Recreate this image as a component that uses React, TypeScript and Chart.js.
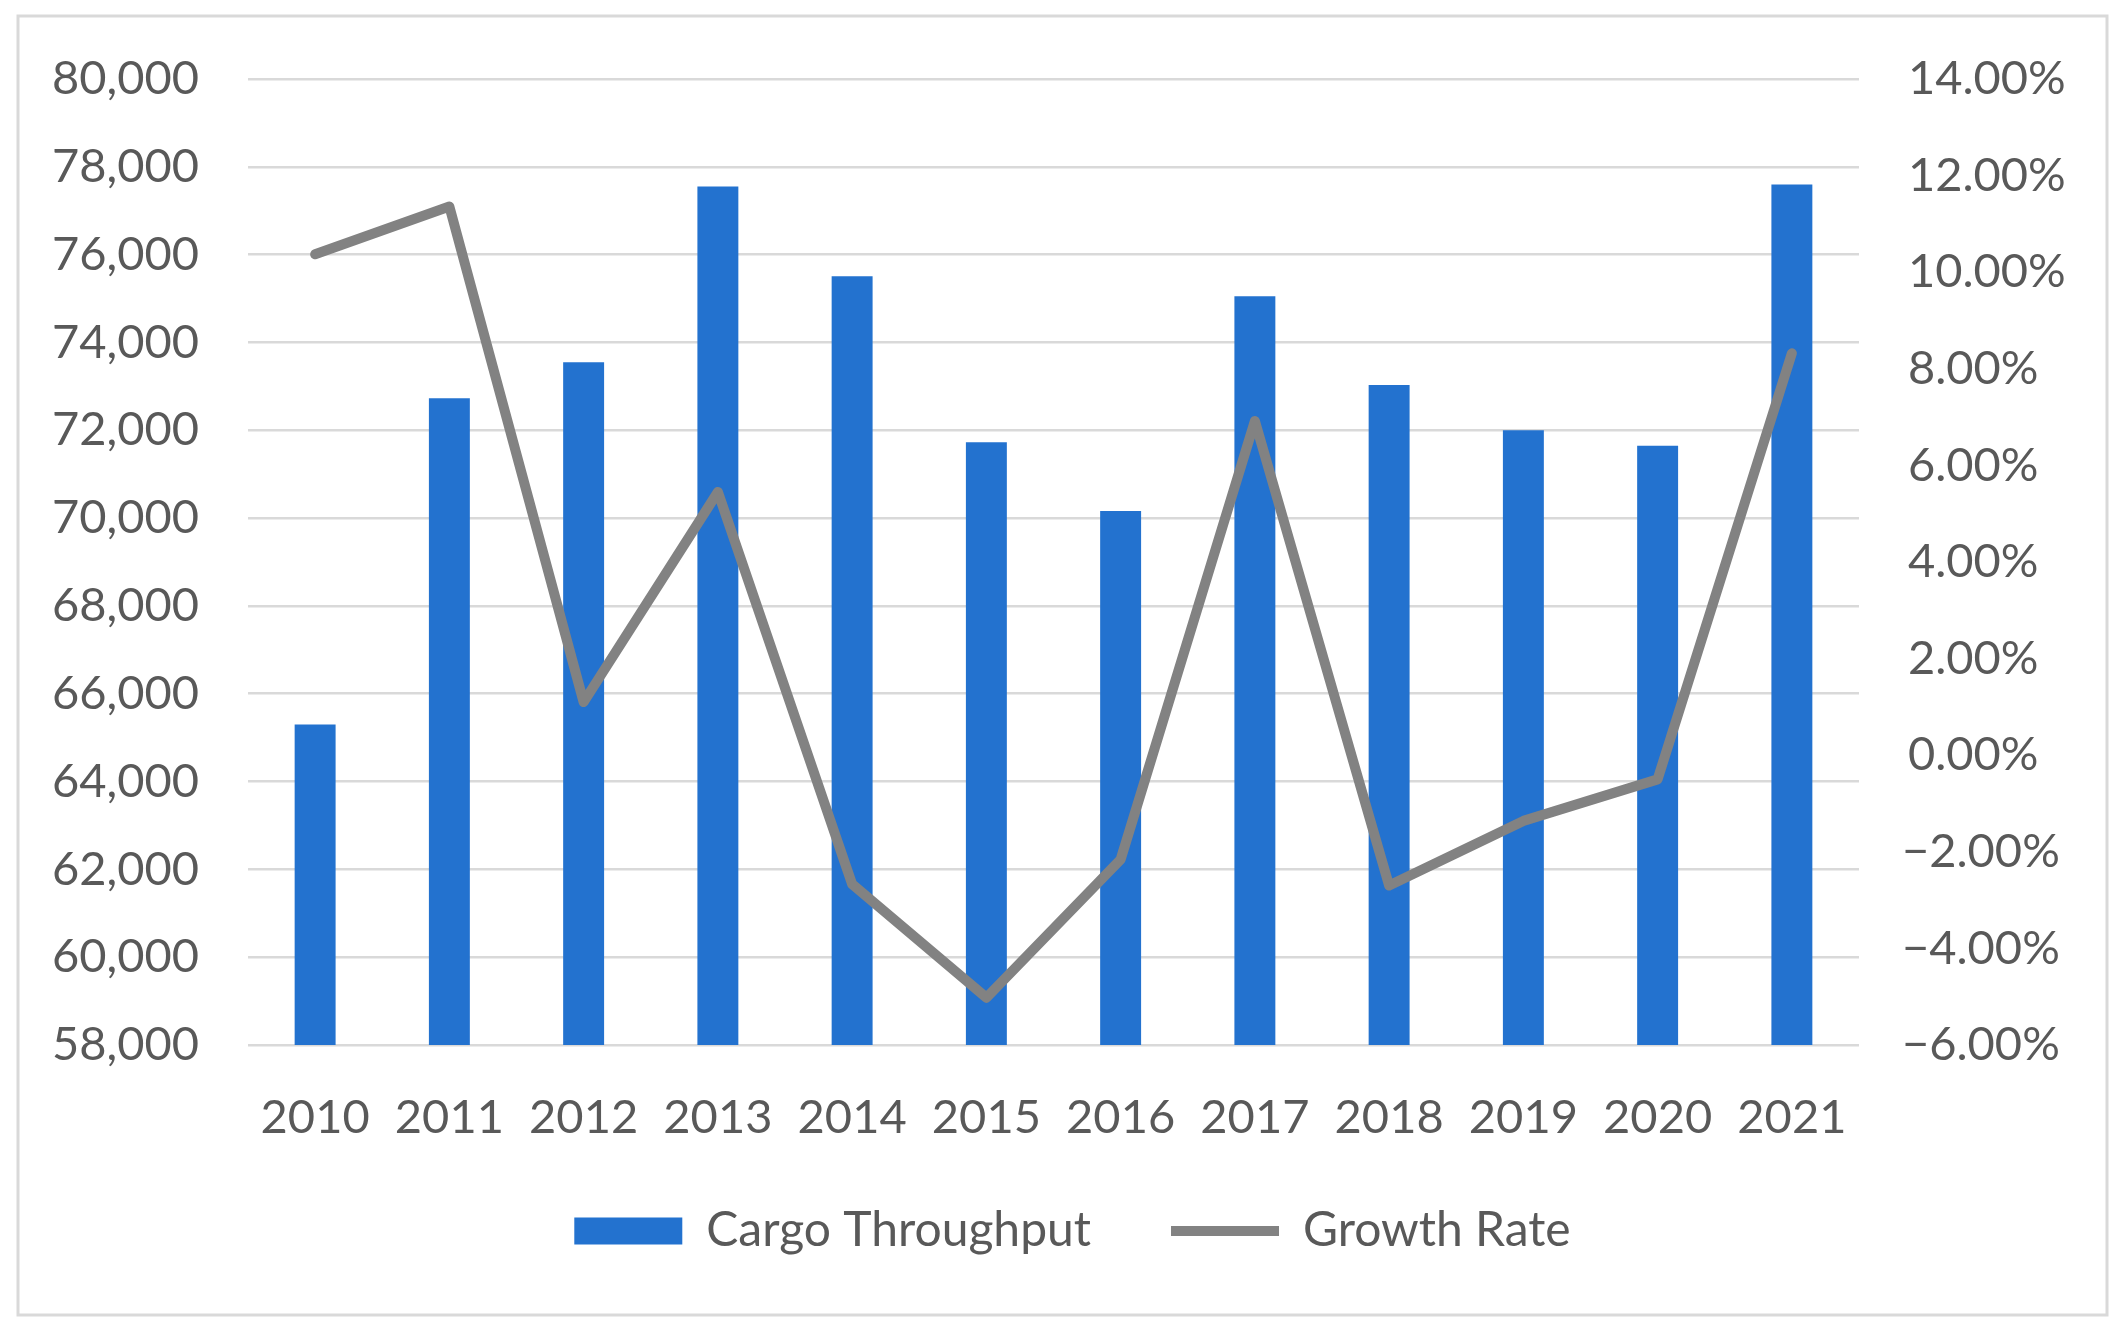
import React, { useEffect, useRef } from 'react';
import { Chart, registerables } from 'chart.js';

Chart.register(...registerables);

const years = ['2010', '2011', '2012', '2013', '2014', '2015', '2016', '2017', '2018', '2019', '2020', '2021'];
const cargoThroughput = [65300, 72730, 73550, 77550, 75510, 71730, 70160, 75050, 73030, 72000, 71650, 77600];
const growthRate = [10.37, 11.36, 1.1, 5.45, -2.67, -5.02, -2.16, 6.92, -2.7, -1.36, -0.5, 8.32];
const leftAxis = [58000, 80000, 2000];
const rightAxis = [-6, 14, 2];
const seriesNames = ['Cargo Throughput', 'Growth Rate'];

const W = 2125;
const H = 1341;
const FONT = 'Lato, "Open Sans", sans-serif';
const TEXT = '#595959';

const framePlugin = {
  id: 'frame',
  beforeDraw(chart: any) {
    const ctx = chart.ctx;
    ctx.save();
    ctx.fillStyle = '#ffffff';
    ctx.fillRect(0, 0, chart.width, chart.height);
    ctx.strokeStyle = '#d9d9d9';
    ctx.lineWidth = 3;
    ctx.strokeRect(18, 16, 2089, 1299);
    ctx.restore();
  },
};

// move the legend up into its place once the layout is done
const legendShift = {
  id: 'legendShift',
  afterLayout(chart: any) {
    const lg = chart.legend;
    if (lg) {
      lg.top -= 48;
      lg.bottom -= 48;
      lg.left += 10;
      lg.right += 10;
    }
  },
};

export default function App() {
  const ref = useRef<HTMLCanvasElement | null>(null);

  useEffect(() => {
    if (!ref.current) return;
    const chart = new Chart(ref.current, {
      type: 'bar',
      data: {
        labels: years,
        datasets: [
          {
            type: 'bar',
            label: seriesNames[0],
            data: cargoThroughput,
            backgroundColor: '#2372CF',
            borderWidth: 0,
            yAxisID: 'y',
            order: 1,
            categoryPercentage: 1,
            barPercentage: 0.305,
            pointStyle: 'rect',
          } as any,
          {
            type: 'line',
            label: seriesNames[1],
            data: growthRate,
            borderColor: '#828282',
            backgroundColor: '#828282',
            borderWidth: 10,
            borderCapStyle: 'round',
            borderJoinStyle: 'round',
            pointRadius: 0,
            tension: 0,
            yAxisID: 'y1',
            order: 0,
            pointStyle: 'line',
          } as any,
        ],
      },
      options: {
        responsive: false,
        animation: false,
        devicePixelRatio: 1,
        layout: { padding: { left: 0, right: 0, top: 79, bottom: 28 } },
        plugins: {
          tooltip: { enabled: false },
          legend: {
            position: 'bottom',
            align: 'center',
            labels: {
              usePointStyle: true,
              pointStyleWidth: 108,
              boxHeight: 27,
              padding: 80,
              color: TEXT,
              font: { family: FONT, size: 48 },
              sort: (a: any, b: any) => a.datasetIndex - b.datasetIndex,
            },
          },
        },
        scales: {
          x: {
            type: 'category',
            offset: true,
            grid: { display: false },
            border: { display: false },
            ticks: { color: TEXT, font: { family: FONT, size: 47 }, padding: 37, autoSkip: false, maxRotation: 0 },
            afterFit: (s: any) => { s.height = 130; },
          },
          y: {
            type: 'linear',
            position: 'left',
            min: leftAxis[0],
            max: leftAxis[1],
            grid: { color: '#d9d9d9', lineWidth: 2.5, drawTicks: false },
            border: { display: false },
            ticks: {
              stepSize: leftAxis[2],
              maxTicksLimit: 30,
              autoSkip: false,
              color: TEXT,
              padding: 49,
              font: { family: FONT, size: 47 },
              callback: (v: any) => Number(v).toLocaleString('en-US'),
            },
            afterFit: (s: any) => { s.width = 248; },
          },
          y1: {
            type: 'linear',
            position: 'right',
            min: rightAxis[0],
            max: rightAxis[1],
            grid: { drawOnChartArea: false, drawTicks: false },
            border: { display: false },
            ticks: {
              stepSize: rightAxis[2],
              maxTicksLimit: 30,
              autoSkip: false,
              color: TEXT,
              padding: 43,
              font: { family: FONT, size: 47 },
              callback: (v: any) => {
                const n = Number(v);
                const s = Math.abs(n).toFixed(2) + '%';
                return n < 0 ? '\u2212' + s : '\u2009' + s;
              },
            },
            afterFit: (s: any) => { s.width = 266; },
          },
        },
      } as any,
      plugins: [framePlugin, legendShift],
    });
    return () => chart.destroy();
  }, []);

  return (
    <div style={{ position: 'fixed', left: 0, top: 0, width: W, height: H, background: '#fff' }}>
      <canvas ref={ref} width={W} height={H} style={{ width: W, height: H, display: 'block' }} />
    </div>
  );
}
